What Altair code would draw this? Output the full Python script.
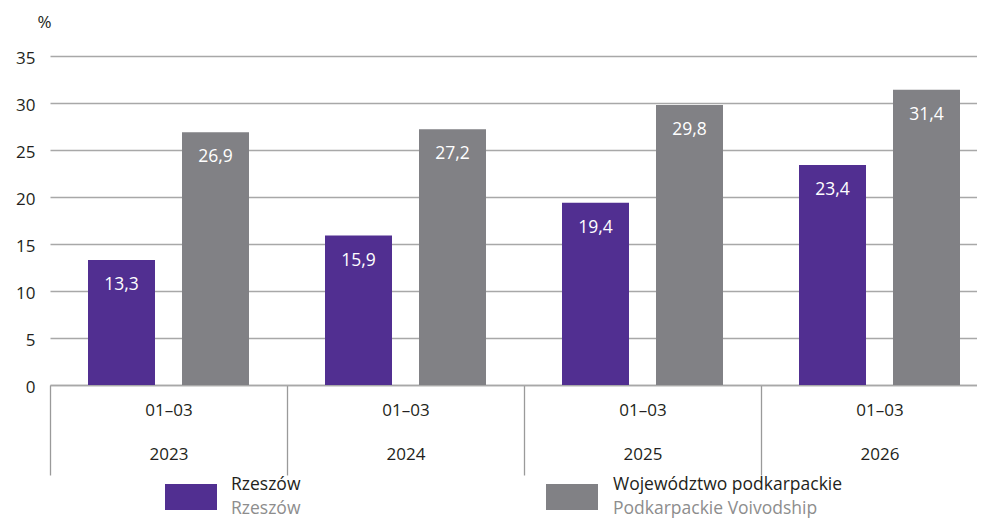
import altair as alt
import pandas as pd

YEARS = ["2023", "2024", "2025", "2026"]
PERIOD = "01–03"
SERIES_PL = ["Rzeszów", "Województwo podkarpackie"]
SERIES_EN = ["Rzeszów", "Podkarpackie Voivodship"]
RZESZOW = [13.3, 15.9, 19.4, 23.4]
PODKARPACKIE = [26.9, 27.2, 29.8, 31.4]
Y_TICKS = [0, 5, 10, 15, 20, 25, 30, 35]
COLORS = ["#512f91", "#818185"]

FONT = "Open Sans"
TEXT = "#231f20"
GRID = "#a8a8a8"

rows = []
for i, yr in enumerate(YEARS):
    rows.append({"year": yr, "series": SERIES_PL[0], "value": RZESZOW[i]})
    rows.append({"year": yr, "series": SERIES_PL[1], "value": PODKARPACKIE[i]})
df = pd.DataFrame(rows)
df["label"] = df["value"].map(lambda v: f"{v:.1f}".replace(".", ","))

x_enc = alt.X(
    "year:N",
    sort=YEARS,
    scale=alt.Scale(range=[0, 948], paddingInner=0, paddingOuter=0),
    axis=alt.Axis(
        title=None,
        labelExpr=f"datum.label ? ['{PERIOD}', datum.label] : ''",
        labelAngle=0,
        tickBand="extent",
        tickSize=90,
        tickColor="#9a9a9a",
        tickWidth=1.3,
        domainColor=GRID,
        domainWidth=1.3,
        labelPadding=-73,
        labelLineHeight=44,
        labelFontSize=17,
        labelFont=FONT,
        labelColor=TEXT,
        labelBaseline="top",
        grid=False,
    ),
)
xo_enc = alt.XOffset(
    "series:N",
    sort=SERIES_PL,
    scale=alt.Scale(paddingInner=27 / 94, paddingOuter=38 / 94),
)
y_enc = alt.Y(
    "value:Q",
    scale=alt.Scale(domain=[0, 35], nice=False),
    axis=alt.Axis(
        values=Y_TICKS,
        title="%",
        titleAngle=0,
        titleX=-6,
        titleY=-34,
        titleAlign="center",
        titleBaseline="middle",
        titleFontSize=17,
        titleFont=FONT,
        titleFontWeight="normal",
        titleColor=TEXT,
        domain=False,
        ticks=False,
        labelPadding=15,
        labelOffset=2,
        labelFontSize=17,
        labelFont=FONT,
        labelColor=TEXT,
        gridColor=GRID,
        gridWidth=1.3,
    ),
)

bars = alt.Chart(df).mark_bar().encode(
    x=x_enc,
    xOffset=xo_enc,
    y=y_enc,
    color=alt.Color("series:N", scale=alt.Scale(domain=SERIES_PL, range=COLORS), legend=None),
)

labels = alt.Chart(df).mark_text(
    color="white", dy=25, fontSize=17.5, font=FONT, baseline="middle"
).encode(x=alt.X("year:N", sort=YEARS), xOffset=alt.XOffset("series:N", sort=SERIES_PL), y="value:Q", text="label:N")

LEG_SYM_X = [115, 496]
LEG_TXT_X = [181, 563]
legend_layers = []
for i in range(2):
    ldf = pd.DataFrame({"pl": [SERIES_PL[i]], "en": [SERIES_EN[i]]})
    legend_layers.append(
        alt.Chart(ldf).mark_rect(color=COLORS[i]).encode(
            x=alt.value(LEG_SYM_X[i]), x2=alt.value(LEG_SYM_X[i] + 52),
            y=alt.value(428), y2=alt.value(454),
        )
    )
    legend_layers.append(
        alt.Chart(ldf).mark_text(align="left", baseline="alphabetic", fontSize=17.5, font=FONT, color=TEXT).encode(
            x=alt.value(LEG_TXT_X[i]), y=alt.value(434), text="pl:N"
        )
    )
    legend_layers.append(
        alt.Chart(ldf).mark_text(align="left", baseline="alphabetic", fontSize=17.5, font=FONT, color="#8d8d8d").encode(
            x=alt.value(LEG_TXT_X[i]), y=alt.value(458), text="en:N"
        )
    )

chart = alt.layer(bars, labels, *legend_layers).properties(
    width=927,
    height=329,
    autosize=alt.AutoSizeParams(type="none"),
    padding={"left": 42, "top": 48, "right": 0, "bottom": 134},
    background="white",
).configure_view(stroke=None)

chart.save("out.html", embed_options={"renderer": "svg", "actions": False})
